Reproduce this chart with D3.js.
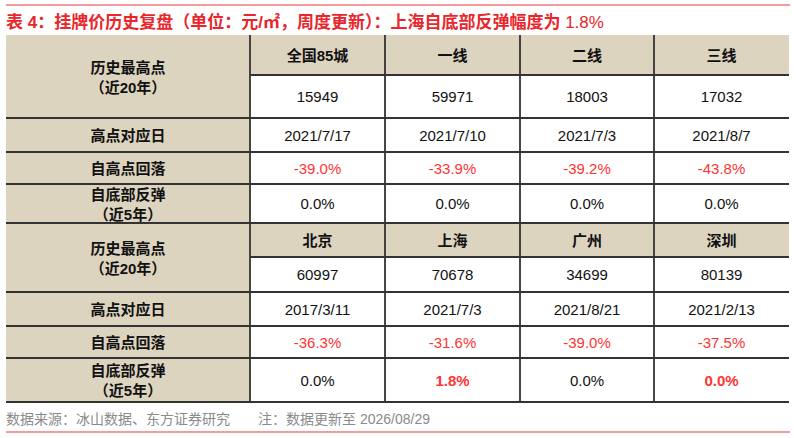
<!DOCTYPE html>
<html><head><meta charset="utf-8">
<script src="https://cdn.jsdelivr.net/npm/d3@7"></script>
<style>body{margin:0;background:#fff}svg{display:block}</style>
</head><body><svg id="c" width="796" height="438"></svg>
<script>
const groups1 = ["全国85城","一线","二线","三线"];
const peak1 = ["15949","59971","18003","17032"];
const date1 = ["2021/7/17","2021/7/10","2021/7/3","2021/8/7"];
const drop1 = ["-39.0%","-33.9%","-39.2%","-43.8%"];
const rebound1 = ["0.0%","0.0%","0.0%","0.0%"];
const groups2 = ["北京","上海","广州","深圳"];
const peak2 = ["60997","70678","34699","80139"];
const date2 = ["2017/3/11","2021/7/3","2021/8/21","2021/2/13"];
const drop2 = ["-36.3%","-31.6%","-39.0%","-37.5%"];
const rebound2 = ["0.0%","1.8%","0.0%","0.0%"];
const rowLabels = [["历史最高点","（近20年）"],["高点对应日"],["自高点回落"],["自底部反弹","（近5年）"]];

const svg = d3.select("#c");
const F = "'Liberation Sans','Noto Sans CJK SC',Arial,sans-serif";
const beige = "#ddd4bf", red = "#ff3333", line = "#333";
const colEdges = [6,250,385,520,654,789];
const rowEdges = [35,75,118,152,184,223,257,292,326,358,402];
const x = i => colEdges[i];
const y = i => rowEdges[i];

svg.append("line").attr("x1",6).attr("x2",790).attr("y1",5).attr("y2",5).attr("stroke","#e8393d").attr("stroke-width",1.2);
svg.append("text").attr("x",6).attr("y",28).attr("font-family",F).attr("font-size",17).attr("font-weight","bold").attr("fill","#e8262b")
  .text("表 4：挂牌价历史复盘（单位：元/㎡，周度更新）：上海自底部反弹幅度为 ").append("tspan").attr("font-weight","normal").text("1.8%");

function block(r0, groups, peak, date, drop, reb, hl){
  const lab = [[r0, r0+2, rowLabels[0]],[r0+2,r0+3,rowLabels[1]],[r0+3,r0+4,rowLabels[2]],[r0+4,r0+5,rowLabels[3]]];
  lab.forEach(([a,b,t])=>{
    svg.append("rect").attr("x",x(0)).attr("y",y(a)).attr("width",x(1)-x(0)).attr("height",y(b)-y(a)).attr("fill",beige);
    const cy=(y(a)+y(b))/2, n=t.length;
    t.forEach((s,k)=>svg.append("text").attr("x",(x(0)+x(1))/2).attr("y",cy+(k-(n-1)/2)*20+6)
      .attr("text-anchor","middle").attr("font-family",F).attr("font-size",15).attr("font-weight","bold").attr("fill","#111").text(s));
  });
  groups.forEach((g,i)=>{
    svg.append("rect").attr("x",x(i+1)).attr("y",y(r0)).attr("width",x(i+2)-x(i+1)).attr("height",y(r0+1)-y(r0)).attr("fill",beige);
  });
  const rows=[[groups,"bold","#111"],[peak,"normal","#111"],[date,"normal","#111"],[drop,"normal",red],[reb,"normal","#111"]];
  rows.forEach(([arr,w,c],ri)=>{
    const cy=(y(r0+ri)+y(r0+ri+1))/2;
    arr.forEach((v,i)=>{
      const isHl = ri===4 && hl && hl[i];
      svg.append("text").attr("x",(x(i+1)+x(i+2))/2).attr("y",cy+5.5).attr("text-anchor","middle")
        .attr("font-family",F).attr("font-size",15).attr("font-weight",isHl?"bold":w).attr("fill",isHl?red:c).text(v);
    });
  });
}
block(0,groups1,peak1,date1,drop1,rebound1,null);
block(5,groups2,peak2,date2,drop2,rebound2,rebound2.map((v,i)=>i===1||i===3));

for(let r=1;r<rowEdges.length;r++){
  const skipLab = (r===1||r===6);
  svg.append("line").attr("x1",skipLab?x(1):x(0)).attr("x2",x(5)).attr("y1",y(r)).attr("y2",y(r)).attr("stroke",line).attr("stroke-width",1.8);
}
colEdges.forEach((c,i)=>{ if(i===0||i===5) return;
  svg.append("line").attr("x1",c).attr("x2",c).attr("y1",y(0)).attr("y2",y(10)).attr("stroke",line).attr("stroke-width",1.8);
});

svg.append("text").attr("x",6).attr("y",424).attr("font-family",F).attr("font-size",14).attr("fill","#8a8a8a")
  .text("数据来源：冰山数据、东方证券研究　　注：数据更新至 2026/08/29");
svg.append("line").attr("x1",6).attr("x2",790).attr("y1",432).attr("y2",432).attr("stroke","#e8393d").attr("stroke-width",1.2);
</script></body></html>
